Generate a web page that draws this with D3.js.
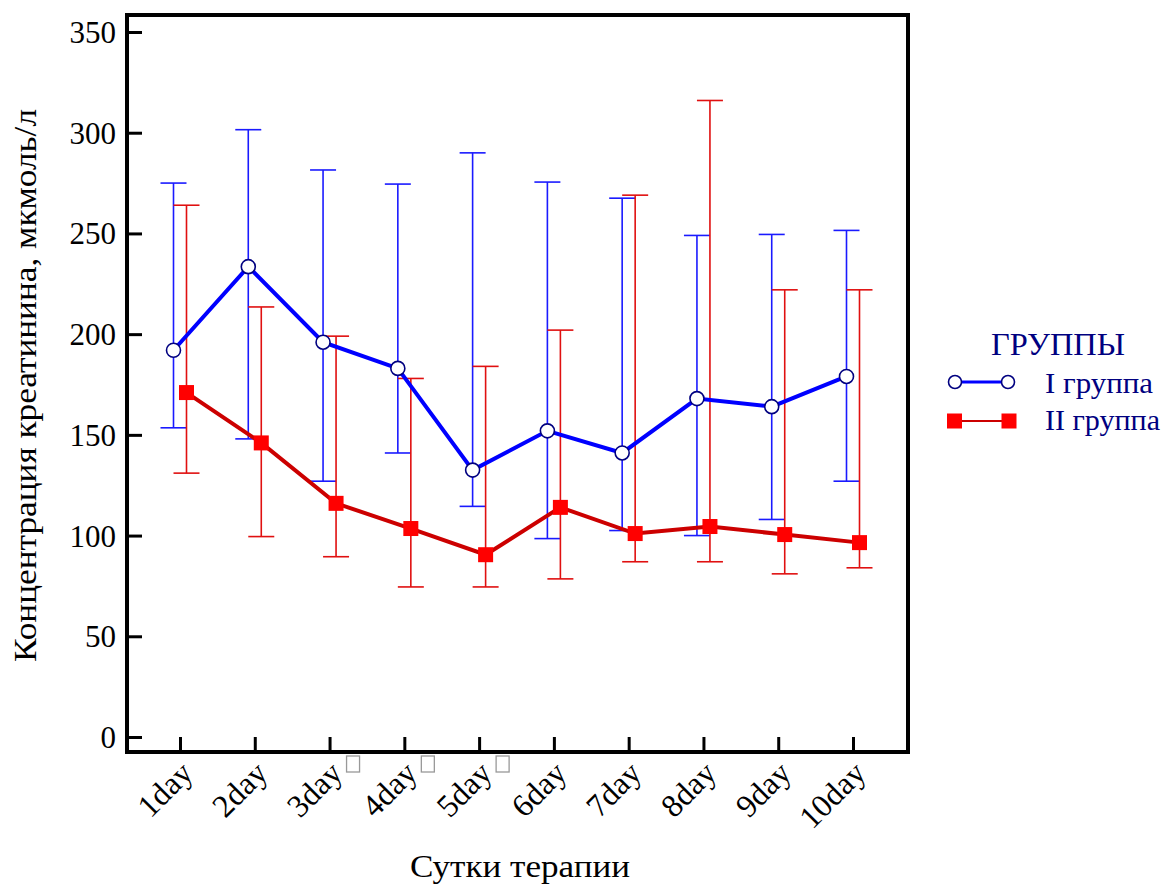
<!DOCTYPE html>
<html><head><meta charset="utf-8">
<script src="https://cdn.jsdelivr.net/npm/d3@7"></script>
<style>body{margin:0;background:#fff}svg{display:block}</style>
</head><body>
<svg id="c" width="1165" height="884"></svg>
<script>
const categories = ["1day","2day","3day","4day","5day","6day","7day","8day","9day","10day"];
const yTicks = [0,50,100,150,200,250,300,350];
const group1Mean  = [192,233.5,196,183,132.5,152,141,168,164,179];
const group1Upper = [275,301.5,281.5,274.5,290,275.5,267.5,249,249.5,251.5];
const group1Lower = [153.5,148,127,141,114.5,98.5,102.5,100,108,127];
const group2Mean  = [171,146,116,103.5,90.5,114,101,104.5,100.5,96.5];
const group2Upper = [264,213.5,199,178,184,202,269,316,222,222];
const group2Lower = [131,99.5,89.5,74.5,74.5,78.5,87,87,81,84];
const missingGlyphAfter = ["3day","4day","5day"];
const xTitle = "Сутки терапии";
const yTitle = "Концентрация креатинина, мкмоль/л";
const legendTitle = "ГРУППЫ";
const seriesNames = ["I группа","II группа"];

const FONT = "Liberation Serif";
const svg = d3.select("#c");
const L=127, R=908, T=15, B=752;
const x = d3.scalePoint().domain(categories).range([180,853]);
const y = d3.scaleLinear().domain([0,350]).range([737,32]);
const off = 6.5;

svg.append("rect").attr("x",L).attr("y",T).attr("width",R-L).attr("height",B-T)
  .attr("fill","none").attr("stroke","#000").attr("stroke-width",4);

const yAxis = d3.axisLeft(y).tickValues(yTicks).tickSize(-15);
const gy = svg.append("g").attr("transform",`translate(${L},0)`).call(yAxis)
  .attr("font-family",null).attr("font-size",null);
gy.select(".domain").remove();
gy.selectAll(".tick line").attr("stroke","#000").attr("stroke-width",3);
gy.selectAll(".tick text").style("font-family",FONT).style("font-size","31px").attr("fill","#000")
  .attr("x",-11).attr("dy","0.34em");

const xAxis = d3.axisBottom(x).tickSize(-15).tickFormat("");
const gx = svg.append("g").attr("transform",`translate(0,${B})`).call(xAxis)
  .attr("font-family",null).attr("font-size",null);
gx.select(".domain").remove();
gx.selectAll(".tick line").attr("stroke","#000").attr("stroke-width",3);
gx.selectAll(".tick").append("text").text(d=>d)
  .style("font-family",FONT).style("font-size","32px").attr("fill","#000")
  .attr("text-anchor","end")
  .attr("transform","translate(14,23) rotate(-45)");

svg.selectAll("rect.tofu").data(missingGlyphAfter).enter().append("rect")
  .attr("class","tofu").attr("x",d=>x(d)+17).attr("y",756).attr("width",13).attr("height",16)
  .attr("fill","none").attr("stroke","#999").attr("stroke-width",1.3);

svg.append("text").text(xTitle).attr("x",410).attr("y",877)
  .attr("textLength",220).attr("lengthAdjust","spacingAndGlyphs")
  .style("font-family",FONT).style("font-size","31px");
svg.append("text").text(yTitle)
  .attr("transform","translate(36,662) rotate(-90)")
  .attr("textLength",553).attr("lengthAdjust","spacingAndGlyphs")
  .style("font-family",FONT).style("font-size","32px");

function errBars(up, lo, dx, color){
  const g = svg.append("g").attr("stroke",color).attr("stroke-width",1.6);
  categories.forEach((c,i)=>{
    const cx = x(c)+dx;
    g.append("line").attr("x1",cx).attr("x2",cx).attr("y1",y(up[i])).attr("y2",y(lo[i]));
    g.append("line").attr("x1",cx-13).attr("x2",cx+13).attr("y1",y(up[i])).attr("y2",y(up[i]));
    g.append("line").attr("x1",cx-13).attr("x2",cx+13).attr("y1",y(lo[i])).attr("y2",y(lo[i]));
  });
}
errBars(group1Upper, group1Lower, -off, "#1a1aff");
errBars(group2Upper, group2Lower, off, "#e01010");

const line = d3.line();
svg.append("path").attr("d", line(categories.map((c,i)=>[x(c)+off, y(group2Mean[i])])))
  .attr("fill","none").attr("stroke","#cc0000").attr("stroke-width",4);
svg.selectAll("rect.m2").data(categories).enter().append("rect").attr("class","m2")
  .attr("x",(c)=>x(c)+off-7.5).attr("y",(c,i)=>y(group2Mean[i])-7.5)
  .attr("width",15).attr("height",15).attr("fill","#ff0000");
svg.append("path").attr("d", line(categories.map((c,i)=>[x(c)-off, y(group1Mean[i])])))
  .attr("fill","none").attr("stroke","#0000ff").attr("stroke-width",4);
svg.selectAll("circle.m1").data(categories).enter().append("circle").attr("class","m1")
  .attr("cx",c=>x(c)-off).attr("cy",(c,i)=>y(group1Mean[i])).attr("r",7)
  .attr("fill","#fff").attr("stroke","#000080").attr("stroke-width",1.6);

const lg = svg.append("g");
lg.append("text").text(legendTitle).attr("x",991).attr("y",355)
  .attr("textLength",134).attr("lengthAdjust","spacingAndGlyphs")
  .style("font-family",FONT).style("font-size","31px").attr("fill","#000080");
lg.append("line").attr("x1",955).attr("x2",1008).attr("y1",382).attr("y2",382).attr("stroke","#0000ff").attr("stroke-width",3);
[955,1008].forEach(cx=>lg.append("circle").attr("cx",cx).attr("cy",382).attr("r",6.5)
  .attr("fill","#fff").attr("stroke","#000080").attr("stroke-width",1.6));
lg.append("line").attr("x1",955).attr("x2",1009).attr("y1",421).attr("y2",421).attr("stroke","#cc0000").attr("stroke-width",2);
[954.5,1009].forEach(cx=>lg.append("rect").attr("x",cx-7.5).attr("y",413.5).attr("width",15).attr("height",15).attr("fill","#ff0000"));
lg.append("text").text(seriesNames[0]).attr("x",1045).attr("y",393)
  .attr("textLength",108).attr("lengthAdjust","spacingAndGlyphs")
  .style("font-family",FONT).style("font-size","30px").attr("fill","#000080");
lg.append("text").text(seriesNames[1]).attr("x",1045).attr("y",430)
  .attr("textLength",115).attr("lengthAdjust","spacingAndGlyphs")
  .style("font-family",FONT).style("font-size","30px").attr("fill","#000080");
</script>
</body></html>
